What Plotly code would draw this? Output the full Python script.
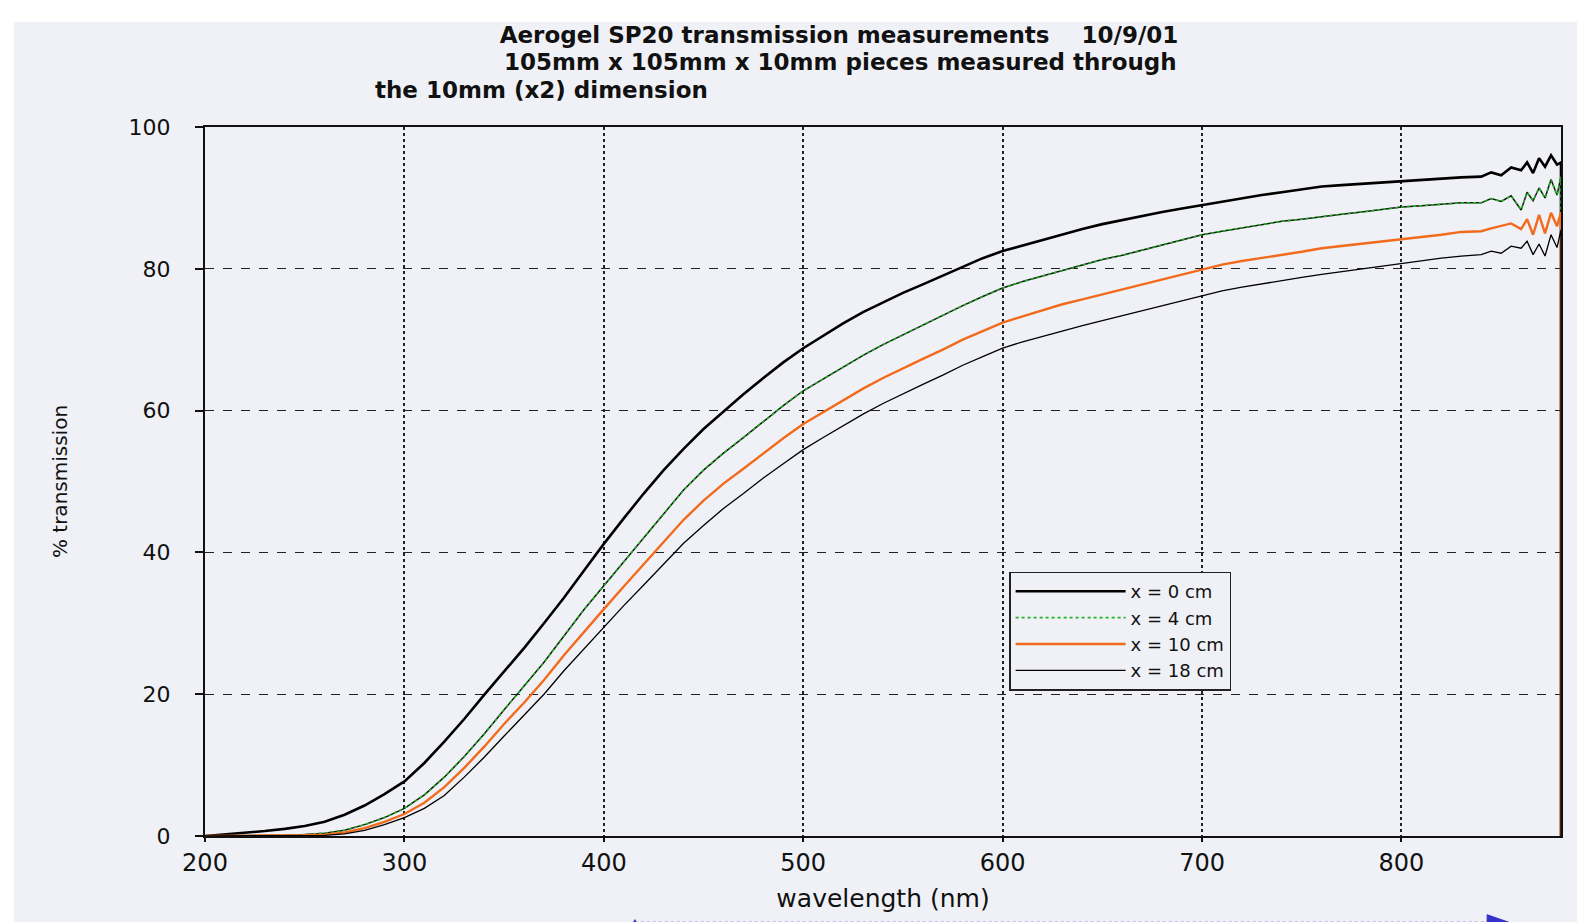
import plotly.graph_objects as go

# ---------------- data ----------------
wl_main = [200, 210, 220, 230, 240, 250, 260, 270, 280, 290,
           300, 310, 320, 330, 340, 350, 360, 370, 380, 390,
           400, 410, 420, 430, 440, 450, 460, 470, 480, 490,
           500, 510, 520, 530, 540, 550, 560, 570, 580, 590,
           600, 610, 620, 630, 640, 650, 660, 670, 680, 690,
           700, 710, 720, 730, 740, 750, 760, 770, 780, 790,
           800, 810, 820, 830, 840]

t0_main = [0.0, 0.2, 0.4, 0.7, 1.0, 1.4, 2.0, 3.0, 4.3, 5.9,
           7.7, 10.3, 13.3, 16.5, 19.9, 23.2, 26.5, 30.0, 33.6, 37.4,
           41.2, 44.8, 48.3, 51.6, 54.6, 57.4, 59.9, 62.3, 64.6, 66.8,
           68.8, 70.6, 72.3, 73.9, 75.3, 76.6, 77.8, 79.0, 80.3, 81.5,
           82.5, 83.3, 84.1, 84.9, 85.6, 86.3, 86.9, 87.5, 88.0, 88.5,
           89.0, 89.5, 89.9, 90.4, 90.8, 91.2, 91.6, 91.8, 92.0, 92.2,
           92.4, 92.6, 92.7, 92.9, 93.0]
t4_main = [0.0, 0.0, 0.0, 0.1, 0.1, 0.2, 0.4, 0.8, 1.6, 2.6,
           3.9, 5.8, 8.3, 11.2, 14.4, 17.8, 21.1, 24.5, 28.2, 31.9,
           35.3, 38.7, 42.1, 45.5, 48.8, 51.6, 54.0, 56.2, 58.5, 60.7,
           62.8, 64.5, 66.2, 67.8, 69.3, 70.7, 72.1, 73.4, 74.8, 76.1,
           77.3, 78.2, 79.0, 79.8, 80.6, 81.3, 81.9, 82.6, 83.3, 84.1,
           84.8, 85.3, 85.8, 86.2, 86.7, 87.0, 87.4, 87.7, 88.0, 88.4,
           88.7, 88.9, 89.1, 89.3, 89.3]
t10_main = [0.0, 0.0, 0.0, 0.0, 0.0, 0.1, 0.2, 0.5, 1.1, 2.0,
            3.1, 4.7, 6.9, 9.6, 12.6, 15.8, 18.8, 22.0, 25.5, 28.8,
            32.0, 35.2, 38.3, 41.5, 44.6, 47.3, 49.7, 51.8, 54.0, 56.1,
            58.1, 59.8, 61.5, 63.1, 64.6, 66.0, 67.3, 68.6, 70.0, 71.2,
            72.4, 73.3, 74.2, 75.0, 75.7, 76.4, 77.1, 77.8, 78.5, 79.3,
            80.0, 80.6, 81.1, 81.5, 82.0, 82.4, 82.9, 83.2, 83.5, 83.8,
            84.1, 84.5, 84.8, 85.2, 85.3]
t18_main = [0.0, 0.0, 0.0, 0.0, 0.0, 0.0, 0.1, 0.3, 0.8, 1.6,
            2.6, 3.9, 5.7, 8.3, 11.1, 14.1, 17.0, 20.0, 23.3, 26.4,
            29.5, 32.5, 35.4, 38.4, 41.3, 43.8, 46.2, 48.3, 50.5, 52.5,
            54.5, 56.2, 57.9, 59.5, 61.0, 62.4, 63.7, 65.0, 66.4, 67.6,
            68.8, 69.7, 70.5, 71.3, 72.0, 72.7, 73.4, 74.1, 74.9, 75.6,
            76.3, 76.9, 77.4, 77.9, 78.4, 78.8, 79.2, 79.6, 80.0, 80.4,
            80.8, 81.2, 81.5, 81.8, 82.0]

# noisy tail near the detector cut-off
wl_tail = [845, 850, 855, 860, 863, 866, 869, 872, 875, 878, 880, 880]
t0_tail = [93.6, 93.2, 94.3, 93.9, 95.0, 93.5, 95.6, 94.4, 96.0, 94.7, 95.0, 0.0]
t4_tail = [89.9, 89.5, 90.3, 88.3, 90.8, 89.6, 91.4, 90.0, 92.6, 90.4, 93.0, 0.0]
t10_tail = [85.7, 86.1, 86.4, 85.6, 87.0, 84.8, 87.6, 85.0, 87.9, 86.0, 88.0, 0.0]
t18_tail = [82.5, 82.2, 83.2, 82.9, 83.9, 82.0, 83.5, 81.8, 84.8, 83.0, 85.5, 0.0]

series_names = ["x = 0 cm", "x = 4 cm", "x = 10 cm", "x = 18 cm"]
x_ticks = [200, 300, 400, 500, 600, 700, 800]
y_ticks = [0, 20, 40, 60, 80, 100]

title_lines = ["Aerogel SP20 transmission measurements\u00a0\u00a0\u00a0\u00a010/9/01",
               "105mm x 105mm x 10mm pieces measured through",
               "the 10mm (x2) dimension"]

# ---------------- figure ----------------
BG = "#f0f1f7"
FONT = "DejaVu Sans"
TCOL = "#111111"
wl = wl_main + wl_tail

fig = go.Figure()
fig.add_trace(go.Scatter(x=wl, y=t0_main + t0_tail, mode="lines", name=series_names[0],
                         line=dict(color="#000000", width=2.6)))
fig.add_trace(go.Scatter(x=wl, y=t4_main + t4_tail, mode="lines", name=series_names[1],
                         showlegend=False, legendgroup="g4",
                         line=dict(color="#101810", width=1.5)))
fig.add_trace(go.Scatter(x=wl, y=t4_main + t4_tail, mode="lines", name=series_names[1],
                         legendgroup="g4",
                         line=dict(color="#22b022", width=1.6, dash="dot")))
fig.add_trace(go.Scatter(x=wl, y=t10_main + t10_tail, mode="lines", name=series_names[2],
                         line=dict(color="#f26a1b", width=2.4)))
fig.add_trace(go.Scatter(x=wl, y=t18_main + t18_tail, mode="lines", name=series_names[3],
                         line=dict(color="#000000", width=1.3)))

TITLE_FONT = dict(family=FONT, size=23, color=TCOL, weight="bold")

fig.update_layout(
    width=1585, height=922,
    margin=dict(l=197, r=32, t=119, b=94),
    paper_bgcolor=BG, plot_bgcolor=BG,
    font=dict(family=FONT, color=TCOL, size=20),
    title=dict(text=title_lines[0], x=0.5243, xref="container", xanchor="center",
               y=0.9707, yref="container", yanchor="middle", font=TITLE_FONT),
    showlegend=True,
    legend=dict(x=0.593, y=0.373, xanchor="left", yanchor="top",
                bgcolor=BG, bordercolor="#222222", borderwidth=1.5,
                font=dict(family=FONT, size=18, color=TCOL),
                tracegroupgap=0, itemwidth=110),
)

fig.update_xaxes(range=[200, 880], tickvals=x_ticks, ticktext=[str(v) for v in x_ticks],
                 showgrid=True, gridcolor="#222222", griddash="dot", gridwidth=1.6,
                 showline=True, linecolor=TCOL, linewidth=2, mirror=True,
                 ticks="outside", ticklen=4, tickwidth=1.5, tickcolor=TCOL,
                 tickfont=dict(family=FONT, size=24, color=TCOL),
                 zeroline=False,
                 title=dict(text="wavelength (nm)", standoff=14,
                            font=dict(family=FONT, size=25, color=TCOL)))
fig.update_yaxes(range=[0, 100], tickvals=y_ticks, ticktext=[str(v) for v in y_ticks],
                 showgrid=True, gridcolor="#222222", griddash="dash", gridwidth=1.2,
                 showline=True, linecolor=TCOL, linewidth=2, mirror=True,
                 ticks="outside", ticklen=8, tickwidth=1.5, tickcolor=TCOL,
                 tickfont=dict(family=FONT, size=22, color=TCOL),
                 ticklabelstandoff=20,
                 zeroline=False,
                 title=dict(text="% transmission", standoff=56,
                            font=dict(family=FONT, size=20, color=TCOL)))

# remaining title lines
fig.add_annotation(text=title_lines[1], x=0.4690, y=1.0917, xref="paper", yref="paper",
                   xanchor="center", yanchor="middle", showarrow=False, font=TITLE_FONT)
fig.add_annotation(text=title_lines[2], x=0.2485, y=1.0522, xref="paper", yref="paper",
                   xanchor="center", yanchor="middle", showarrow=False, font=TITLE_FONT)

# white strips at the scan edges
fig.add_shape(type="rect", xref="paper", yref="paper", x0=-0.2, x1=1.1, y0=1.148, y1=1.2,
              fillcolor="#ffffff", line=dict(width=0), layer="below")
fig.add_shape(type="rect", xref="paper", yref="paper", x0=-0.2, x1=-0.141, y0=-0.2, y1=1.2,
              fillcolor="#ffffff", line=dict(width=0), layer="below")

# blue dotted range arrow under the axis
fig.add_shape(type="line", xref="paper", yref="paper", x0=0.317, x1=0.955, y0=-0.122, y1=-0.122,
              line=dict(color="#3a3ad0", width=1.5, dash="dot"))
fig.add_shape(type="path", xref="paper", yref="paper",
              path="M 0.9455 -0.111 L 0.962 -0.122 L 0.9455 -0.133 Z",
              fillcolor="#3333cc", line=dict(color="#3333cc", width=1))
fig.add_shape(type="path", xref="paper", yref="paper",
              path="M 0.3125 -0.135 L 0.317 -0.118 L 0.3215 -0.135 Z",
              fillcolor="#3333cc", line=dict(color="#3333cc", width=1))

fig.write_html("out.html")
